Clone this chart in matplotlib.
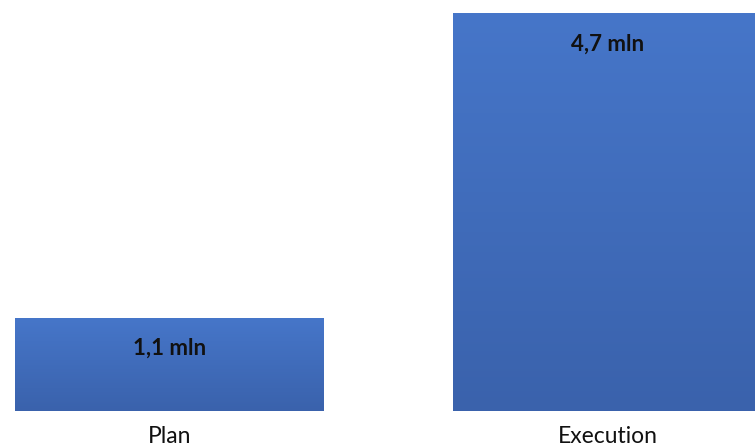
import matplotlib.pyplot as plt
import numpy as np

categories = ['Plan', 'Execution']
values = [1.1, 4.7]
value_labels = ['1,1 mln', '4,7 mln']

fig = plt.figure(figsize=(7.55, 4.46), dpi=100)
ax = fig.add_axes([0, 0, 1, 1])
ax.axis('off')

# vertical gradient, lighter at top
grad = np.linspace(0, 1, 256).reshape(-1, 1)
cmap = plt.matplotlib.colors.LinearSegmentedColormap.from_list('g', ['#3a62ac', '#4676c9'])
width = 0.705

for i, (v, lab) in enumerate(zip(values, value_labels)):
    ax.imshow(grad, cmap=cmap, origin='lower', aspect='auto',
              extent=[i - width/2, i + width/2, 0, v], zorder=1)
    ax.text(i, v - 0.36, lab, ha='center', va='center', fontsize=16,
            fontweight='bold', family='Lato', color='#111111', zorder=3)
    ax.text(i, -0.3, categories[i], ha='center', va='center', fontsize=16.5,
            family='Lato', color='#111111')

ax.set_xlim(-0.387, 1.337)
ax.set_ylim(-0.414, 4.866)
fig.savefig('out.png', dpi=100)
